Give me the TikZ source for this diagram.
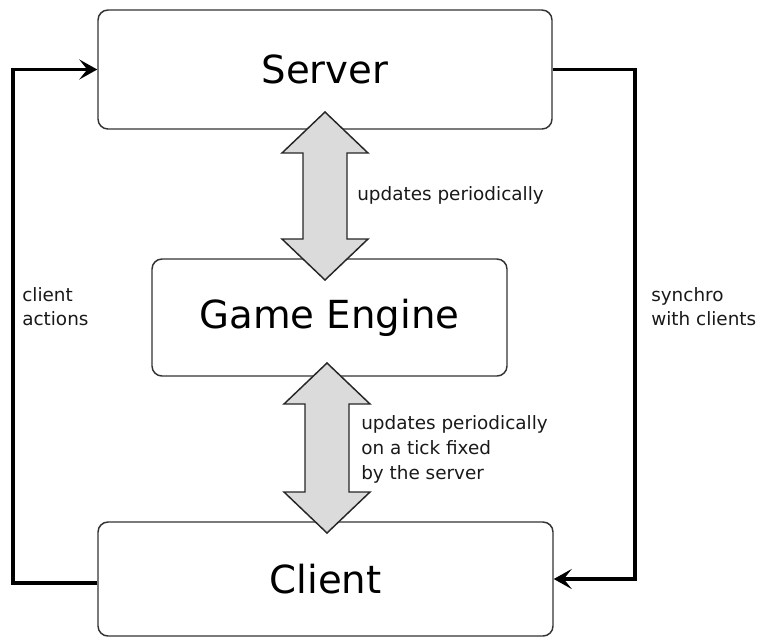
\documentclass[tikz,border=0pt]{standalone}
\usepackage{fontspec}
\setmainfont{DejaVu Sans}
\usetikzlibrary{arrows.meta}

% up/down block arrow: #1 = centre x, #2 = top tip y, #3 = bottom tip y
\newcommand\blockupdown[3]{%
  \draw[bigarrow] (#1,#2) -- ++(43,41) -- ++(-21,0) -- ({#1+22},{#3-41})
    -- ++(21,0) -- (#1,#3) -- ++(-43,-41) -- ++(21,0) -- ({#1-22},{#2+41})
    -- ++(-21,0) -- cycle;}

\tikzset{
  box/.style={draw=black!80, line width=1.1pt, rounded corners=7.5pt,
    fill=white, font=\fontsize{29}{34}\selectfont, inner sep=0pt},
  conn/.style={draw=black, line width=2.3pt,
    -{Stealth[length=13.5pt,width=15pt,inset=6pt]}},
  bigarrow/.style={draw=black!85, line width=1.1pt, fill=black!14,
    line join=miter},
  note/.style={anchor=base west, inner sep=0pt, align=left,
    font=\fontsize{13.8}{18.4}\selectfont, text=black!90},
}

\begin{document}
\begin{tikzpicture}[x=0.75pt, y=-0.75pt]
  \useasboundingbox (0,0) rectangle (758,637);

  % the three components
  \node[box, minimum width=340.5pt, minimum height=89.25pt] (server) at (325,69.5) {Server};
  \node[box, minimum width=266.25pt, minimum height=87.75pt] (engine) at (329.5,317.5) {Game Engine};
  \node[box, minimum width=341.25pt, minimum height=85.5pt] (client) at (325.5,579) {Client};

  % periodic updates between the engine and its neighbours
  \blockupdown{325}{112}{280}
  \blockupdown{327}{363}{533}

  % multi-line notes are placed by the baseline of their last line
  \node[note] (upd1) at (357,200) {updates periodically};
  \node[note] (upd2) at (361,479) {updates periodically\\on a tick fixed\\by the server};

  % outer loop: client actions up, synchronisation down
  \coordinate (L) at (13,0);
  \coordinate (R) at (635,0);
  \draw[conn] ([yshift=-3pt]client.west) -- ([yshift=-3pt]client.west -| L)
    -- (server.west -| L) -- (server.west);
  \draw[conn] (server.east) -- (server.east -| R)
    -- (client.east -| R) -- (client.east);

  \node[note, font=\fontsize{13.8}{17.3}\selectfont] (act) at (22,325) {client\\actions};
  \node[note, font=\fontsize{13.8}{18}\selectfont] (sync) at (651,325) {synchro\\with clients};
\end{tikzpicture}
\end{document}
